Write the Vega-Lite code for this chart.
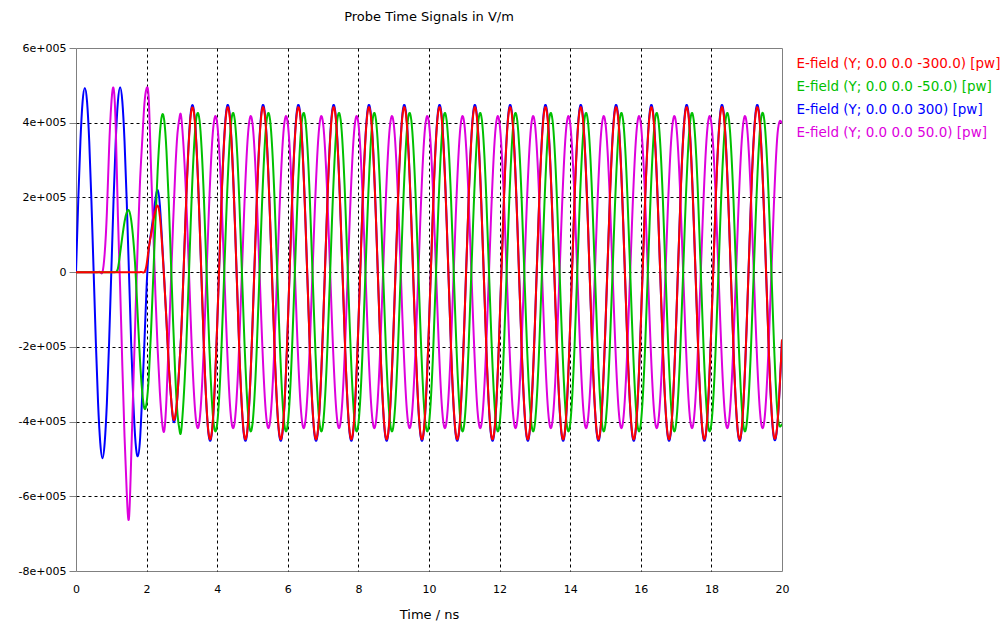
{
  "$schema": "https://vega.github.io/schema/vega-lite/v6.json",
  "width": 706,
  "height": 523,
  "autosize": {"type": "none"},
  "padding": {"left": 76, "top": 48, "right": 224, "bottom": 54},
  "background": "white",
  "title": {"text": "Probe Time Signals in V/m", "font": "DejaVu Sans", "fontSize": 13, "fontWeight": "normal", "color": "#000000", "anchor": "middle", "frame": "group", "offset": 18},
  "data": {"values": [
    {"t":0,"a":0,"b":0,"c":0,"d":0},
    {"t":0.0625,"a":0,"b":0,"c":189000,"d":0},
    {"t":0.125,"a":0,"b":0,"c":350000,"d":0},
    {"t":0.1875,"a":0,"b":0,"c":457000,"d":0},
    {"t":0.25,"a":0,"b":0,"c":493000,"d":0},
    {"t":0.3125,"a":0,"b":0,"c":457000,"d":0},
    {"t":0.375,"a":0,"b":0,"c":350000,"d":0},
    {"t":0.4375,"a":0,"b":0,"c":189000,"d":0},
    {"t":0.5,"a":0,"b":0,"c":0,"d":0},
    {"t":0.5625,"a":0,"b":0,"c":-189000,"d":0},
    {"t":0.625,"a":0,"b":0,"c":-350000,"d":0},
    {"t":0.6875,"a":0,"b":0,"c":-457000,"d":0},
    {"t":0.75,"a":0,"b":0,"c":-498000,"d":0},
    {"t":0.8125,"a":0,"b":0,"c":-457000,"d":50000},
    {"t":0.875,"a":0,"b":0,"c":-350000,"d":160000},
    {"t":0.9375,"a":0,"b":0,"c":-189000,"d":330000},
    {"t":1,"a":0,"b":0,"c":0,"d":450000},
    {"t":1.0625,"a":0,"b":0,"c":189000,"d":493000},
    {"t":1.125,"a":0,"b":0,"c":350000,"d":390000},
    {"t":1.1875,"a":0,"b":10000,"c":457000,"d":150000},
    {"t":1.25,"a":0,"b":50000,"c":495000,"d":-40000},
    {"t":1.3125,"a":0,"b":95000,"c":457000,"d":-250000},
    {"t":1.375,"a":0,"b":135000,"c":350000,"d":-440000},
    {"t":1.4375,"a":0,"b":160000,"c":189000,"d":-590000},
    {"t":1.5,"a":0,"b":165000,"c":0,"d":-660000},
    {"t":1.5625,"a":0,"b":140000,"c":-189000,"d":-500000},
    {"t":1.625,"a":0,"b":85000,"c":-350000,"d":-300000},
    {"t":1.6875,"a":0,"b":0,"c":-457000,"d":-106000},
    {"t":1.75,"a":0,"b":-120000,"c":-493000,"d":80000},
    {"t":1.8125,"a":0,"b":-235000,"c":-450000,"d":240000},
    {"t":1.875,"a":0,"b":-320000,"c":-330000,"d":350000},
    {"t":1.9375,"a":0,"b":-365000,"c":-190000,"d":450000},
    {"t":2,"a":20000,"b":-350000,"c":-40000,"d":492000},
    {"t":2.0625,"a":65000,"b":-280000,"c":60000,"d":460000},
    {"t":2.125,"a":100000,"b":-160000,"c":105000,"d":280000},
    {"t":2.1875,"a":135000,"b":-15000,"c":150000,"d":120000},
    {"t":2.25,"a":165000,"b":135000,"c":195000,"d":-60000},
    {"t":2.3125,"a":178000,"b":270000,"c":220000,"d":-205000},
    {"t":2.375,"a":150000,"b":370000,"c":180000,"d":-320000},
    {"t":2.4375,"a":75000,"b":420000,"c":85000,"d":-400000},
    {"t":2.5,"a":-22000,"b":406000,"c":-20000,"d":-425000},
    {"t":2.5625,"a":-130000,"b":325000,"c":-130000,"d":-340000},
    {"t":2.625,"a":-245000,"b":194000,"c":-245000,"d":-190000},
    {"t":2.6875,"a":-330000,"b":34000,"c":-330000,"d":-33000},
    {"t":2.75,"a":-390000,"b":-132000,"c":-395000,"d":129000},
    {"t":2.8125,"a":-385000,"b":-277000,"c":-390000,"d":271000},
    {"t":2.875,"a":-330000,"b":-380000,"c":-330000,"d":372000},
    {"t":2.9375,"a":-235000,"b":-426000,"c":-235000,"d":417000},
    {"t":3,"a":-120000,"b":-406000,"c":-120000,"d":398000},
    {"t":3.125,"a":199000,"b":-194000,"c":202000,"d":190000},
    {"t":3.25,"a":420000,"b":132000,"c":426000,"d":-129000},
    {"t":3.375,"a":394000,"b":380000,"c":399000,"d":-372000},
    {"t":3.5,"a":135000,"b":406000,"c":137000,"d":-398000},
    {"t":3.625,"a":-205000,"b":194000,"c":-206000,"d":-190000},
    {"t":3.75,"a":-426000,"b":-132000,"c":-430000,"d":129000},
    {"t":3.875,"a":-400000,"b":-380000,"c":-403000,"d":372000},
    {"t":4,"a":-141000,"b":-406000,"c":-141000,"d":398000},
    {"t":4.125,"a":199000,"b":-194000,"c":202000,"d":190000},
    {"t":4.25,"a":420000,"b":132000,"c":426000,"d":-129000},
    {"t":4.375,"a":394000,"b":380000,"c":399000,"d":-372000},
    {"t":4.5,"a":135000,"b":406000,"c":137000,"d":-398000},
    {"t":4.625,"a":-205000,"b":194000,"c":-206000,"d":-190000},
    {"t":4.75,"a":-426000,"b":-132000,"c":-430000,"d":129000},
    {"t":4.875,"a":-400000,"b":-380000,"c":-403000,"d":372000},
    {"t":5,"a":-141000,"b":-406000,"c":-141000,"d":398000},
    {"t":5.125,"a":199000,"b":-194000,"c":202000,"d":190000},
    {"t":5.25,"a":420000,"b":132000,"c":426000,"d":-129000},
    {"t":5.375,"a":394000,"b":380000,"c":399000,"d":-372000},
    {"t":5.5,"a":135000,"b":406000,"c":137000,"d":-398000},
    {"t":5.625,"a":-205000,"b":194000,"c":-206000,"d":-190000},
    {"t":5.75,"a":-426000,"b":-132000,"c":-430000,"d":129000},
    {"t":5.875,"a":-400000,"b":-380000,"c":-403000,"d":372000},
    {"t":6,"a":-141000,"b":-406000,"c":-141000,"d":398000},
    {"t":6.125,"a":199000,"b":-194000,"c":202000,"d":190000},
    {"t":6.25,"a":420000,"b":132000,"c":426000,"d":-129000},
    {"t":6.375,"a":394000,"b":380000,"c":399000,"d":-372000},
    {"t":6.5,"a":135000,"b":406000,"c":137000,"d":-398000},
    {"t":6.625,"a":-205000,"b":194000,"c":-206000,"d":-190000},
    {"t":6.75,"a":-426000,"b":-132000,"c":-430000,"d":129000},
    {"t":6.875,"a":-400000,"b":-380000,"c":-403000,"d":372000},
    {"t":7,"a":-141000,"b":-406000,"c":-141000,"d":398000},
    {"t":7.125,"a":199000,"b":-194000,"c":202000,"d":190000},
    {"t":7.25,"a":420000,"b":132000,"c":426000,"d":-129000},
    {"t":7.375,"a":394000,"b":380000,"c":399000,"d":-372000},
    {"t":7.5,"a":135000,"b":406000,"c":137000,"d":-398000},
    {"t":7.625,"a":-205000,"b":194000,"c":-206000,"d":-190000},
    {"t":7.75,"a":-426000,"b":-132000,"c":-430000,"d":129000},
    {"t":7.875,"a":-400000,"b":-380000,"c":-403000,"d":372000},
    {"t":8,"a":-141000,"b":-406000,"c":-141000,"d":398000},
    {"t":8.125,"a":199000,"b":-194000,"c":202000,"d":190000},
    {"t":8.25,"a":420000,"b":132000,"c":426000,"d":-129000},
    {"t":8.375,"a":394000,"b":380000,"c":399000,"d":-372000},
    {"t":8.5,"a":135000,"b":406000,"c":137000,"d":-398000},
    {"t":8.625,"a":-205000,"b":194000,"c":-206000,"d":-190000},
    {"t":8.75,"a":-426000,"b":-132000,"c":-430000,"d":129000},
    {"t":8.875,"a":-400000,"b":-380000,"c":-403000,"d":372000},
    {"t":9,"a":-141000,"b":-406000,"c":-141000,"d":398000},
    {"t":9.125,"a":199000,"b":-194000,"c":202000,"d":190000},
    {"t":9.25,"a":420000,"b":132000,"c":426000,"d":-129000},
    {"t":9.375,"a":394000,"b":380000,"c":399000,"d":-372000},
    {"t":9.5,"a":135000,"b":406000,"c":137000,"d":-398000},
    {"t":9.625,"a":-205000,"b":194000,"c":-206000,"d":-190000},
    {"t":9.75,"a":-426000,"b":-132000,"c":-430000,"d":129000},
    {"t":9.875,"a":-400000,"b":-380000,"c":-403000,"d":372000},
    {"t":10,"a":-141000,"b":-406000,"c":-141000,"d":398000},
    {"t":10.125,"a":199000,"b":-194000,"c":202000,"d":190000},
    {"t":10.25,"a":420000,"b":132000,"c":426000,"d":-129000},
    {"t":10.375,"a":394000,"b":380000,"c":399000,"d":-372000},
    {"t":10.5,"a":135000,"b":406000,"c":137000,"d":-398000},
    {"t":10.625,"a":-205000,"b":194000,"c":-206000,"d":-190000},
    {"t":10.75,"a":-426000,"b":-132000,"c":-430000,"d":129000},
    {"t":10.875,"a":-400000,"b":-380000,"c":-403000,"d":372000},
    {"t":11,"a":-141000,"b":-406000,"c":-141000,"d":398000},
    {"t":11.125,"a":199000,"b":-194000,"c":202000,"d":190000},
    {"t":11.25,"a":420000,"b":132000,"c":426000,"d":-129000},
    {"t":11.375,"a":394000,"b":380000,"c":399000,"d":-372000},
    {"t":11.5,"a":135000,"b":406000,"c":137000,"d":-398000},
    {"t":11.625,"a":-205000,"b":194000,"c":-206000,"d":-190000},
    {"t":11.75,"a":-426000,"b":-132000,"c":-430000,"d":129000},
    {"t":11.875,"a":-400000,"b":-380000,"c":-403000,"d":372000},
    {"t":12,"a":-141000,"b":-406000,"c":-141000,"d":398000},
    {"t":12.125,"a":199000,"b":-194000,"c":202000,"d":190000},
    {"t":12.25,"a":420000,"b":132000,"c":426000,"d":-129000},
    {"t":12.375,"a":394000,"b":380000,"c":399000,"d":-372000},
    {"t":12.5,"a":135000,"b":406000,"c":137000,"d":-398000},
    {"t":12.625,"a":-205000,"b":194000,"c":-206000,"d":-190000},
    {"t":12.75,"a":-426000,"b":-132000,"c":-430000,"d":129000},
    {"t":12.875,"a":-400000,"b":-380000,"c":-403000,"d":372000},
    {"t":13,"a":-141000,"b":-406000,"c":-141000,"d":398000},
    {"t":13.125,"a":199000,"b":-194000,"c":202000,"d":190000},
    {"t":13.25,"a":420000,"b":132000,"c":426000,"d":-129000},
    {"t":13.375,"a":394000,"b":380000,"c":399000,"d":-372000},
    {"t":13.5,"a":135000,"b":406000,"c":137000,"d":-398000},
    {"t":13.625,"a":-205000,"b":194000,"c":-206000,"d":-190000},
    {"t":13.75,"a":-426000,"b":-132000,"c":-430000,"d":129000},
    {"t":13.875,"a":-400000,"b":-380000,"c":-403000,"d":372000},
    {"t":14,"a":-141000,"b":-406000,"c":-141000,"d":398000},
    {"t":14.125,"a":199000,"b":-194000,"c":202000,"d":190000},
    {"t":14.25,"a":420000,"b":132000,"c":426000,"d":-129000},
    {"t":14.375,"a":394000,"b":380000,"c":399000,"d":-372000},
    {"t":14.5,"a":135000,"b":406000,"c":137000,"d":-398000},
    {"t":14.625,"a":-205000,"b":194000,"c":-206000,"d":-190000},
    {"t":14.75,"a":-426000,"b":-132000,"c":-430000,"d":129000},
    {"t":14.875,"a":-400000,"b":-380000,"c":-403000,"d":372000},
    {"t":15,"a":-141000,"b":-406000,"c":-141000,"d":398000},
    {"t":15.125,"a":199000,"b":-194000,"c":202000,"d":190000},
    {"t":15.25,"a":420000,"b":132000,"c":426000,"d":-129000},
    {"t":15.375,"a":394000,"b":380000,"c":399000,"d":-372000},
    {"t":15.5,"a":135000,"b":406000,"c":137000,"d":-398000},
    {"t":15.625,"a":-205000,"b":194000,"c":-206000,"d":-190000},
    {"t":15.75,"a":-426000,"b":-132000,"c":-430000,"d":129000},
    {"t":15.875,"a":-400000,"b":-380000,"c":-403000,"d":372000},
    {"t":16,"a":-141000,"b":-406000,"c":-141000,"d":398000},
    {"t":16.125,"a":199000,"b":-194000,"c":202000,"d":190000},
    {"t":16.25,"a":420000,"b":132000,"c":426000,"d":-129000},
    {"t":16.375,"a":394000,"b":380000,"c":399000,"d":-372000},
    {"t":16.5,"a":135000,"b":406000,"c":137000,"d":-398000},
    {"t":16.625,"a":-205000,"b":194000,"c":-206000,"d":-190000},
    {"t":16.75,"a":-426000,"b":-132000,"c":-430000,"d":129000},
    {"t":16.875,"a":-400000,"b":-380000,"c":-403000,"d":372000},
    {"t":17,"a":-141000,"b":-406000,"c":-141000,"d":398000},
    {"t":17.125,"a":199000,"b":-194000,"c":202000,"d":190000},
    {"t":17.25,"a":420000,"b":132000,"c":426000,"d":-129000},
    {"t":17.375,"a":394000,"b":380000,"c":399000,"d":-372000},
    {"t":17.5,"a":135000,"b":406000,"c":137000,"d":-398000},
    {"t":17.625,"a":-205000,"b":194000,"c":-206000,"d":-190000},
    {"t":17.75,"a":-426000,"b":-132000,"c":-430000,"d":129000},
    {"t":17.875,"a":-400000,"b":-380000,"c":-403000,"d":372000},
    {"t":18,"a":-141000,"b":-406000,"c":-141000,"d":398000},
    {"t":18.125,"a":199000,"b":-194000,"c":202000,"d":190000},
    {"t":18.25,"a":420000,"b":132000,"c":426000,"d":-129000},
    {"t":18.375,"a":394000,"b":380000,"c":399000,"d":-372000},
    {"t":18.5,"a":135000,"b":406000,"c":137000,"d":-398000},
    {"t":18.625,"a":-205000,"b":194000,"c":-206000,"d":-190000},
    {"t":18.75,"a":-426000,"b":-132000,"c":-430000,"d":129000},
    {"t":18.875,"a":-400000,"b":-380000,"c":-403000,"d":372000},
    {"t":19,"a":-141000,"b":-406000,"c":-141000,"d":398000},
    {"t":19.125,"a":199000,"b":-194000,"c":202000,"d":190000},
    {"t":19.25,"a":420000,"b":132000,"c":426000,"d":-129000},
    {"t":19.375,"a":394000,"b":380000,"c":399000,"d":-372000},
    {"t":19.5,"a":135000,"b":406000,"c":137000,"d":-398000},
    {"t":19.625,"a":-205000,"b":194000,"c":-206000,"d":-190000},
    {"t":19.75,"a":-426000,"b":-132000,"c":-430000,"d":129000},
    {"t":19.875,"a":-400000,"b":-380000,"c":-403000,"d":372000},
    {"t":20,"a":-180000,"b":-406000,"c":-182000,"d":398000}
  ]},
  "encoding": {
    "x": {"field": "t", "type": "quantitative", "scale": {"domain": [0, 20], "nice": false},
      "axis": {"values": [0,2,4,6,8,10,12,14,16,18,20], "title": "Time / ns", "labelFlush": false,
        "gridOpacity": {"condition": {"test": "datum.value == 0 || datum.value == 20", "value": 0}, "value": 1}}}
  },
  "layer": [
    {"mark": {"type": "line", "interpolate": "natural", "strokeWidth": 2, "clip": true},
     "encoding": {
       "y": {"field": "c", "type": "quantitative", "scale": {"domain": [-800000, 600000], "nice": false},
         "axis": {"values": [-800000,-600000,-400000,-200000,0,200000,400000,600000], "title": null,
           "labelExpr": "datum.value == 0 ? '0' : (datum.value/100000) + 'e+005'",
           "gridOpacity": {"condition": {"test": "datum.value == 600000 || datum.value == -800000", "value": 0}, "value": 1}}},
       "color": {"datum": "c", "type": "nominal", "scale": {"domain": ["a","b","c","d"], "range": ["#ff0000","#00c000","#0000ff","#dd00dd"]},
         "legend": {"orient": "none", "legendX": 707, "legendY": 9, "title": null, "symbolSize": 0, "symbolOpacity": 0, "symbolStrokeWidth": 0, "labelOffset": 0, "labelFont": "DejaVu Sans", "labelFontSize": 13.5, "labelLimit": 400, "rowPadding": 8,
           "labelExpr": "datum.label == 'a' ? 'E-field (Y; 0.0 0.0 -300.0) [pw]' : datum.label == 'b' ? 'E-field (Y; 0.0 0.0 -50.0) [pw]' : datum.label == 'c' ? 'E-field (Y; 0.0 0.0 300) [pw]' : 'E-field (Y; 0.0 0.0 50.0) [pw]'",
           "encode": {"labels": {"update": {"fill": {"scale": "color", "field": "value"}}}}}}
     }},
    {"mark": {"type": "line", "interpolate": "natural", "strokeWidth": 2, "clip": true},
     "encoding": {
       "y": {"field": "d", "type": "quantitative", "scale": {"domain": [-800000, 600000], "nice": false},
         "axis": {"values": [-800000,-600000,-400000,-200000,0,200000,400000,600000], "title": null,
           "labelExpr": "datum.value == 0 ? '0' : (datum.value/100000) + 'e+005'",
           "gridOpacity": {"condition": {"test": "datum.value == 600000 || datum.value == -800000", "value": 0}, "value": 1}}},
       "color": {"datum": "d", "type": "nominal"}
     }},
    {"mark": {"type": "line", "interpolate": "natural", "strokeWidth": 2, "clip": true},
     "encoding": {
       "y": {"field": "b", "type": "quantitative", "scale": {"domain": [-800000, 600000], "nice": false},
         "axis": {"values": [-800000,-600000,-400000,-200000,0,200000,400000,600000], "title": null,
           "labelExpr": "datum.value == 0 ? '0' : (datum.value/100000) + 'e+005'",
           "gridOpacity": {"condition": {"test": "datum.value == 600000 || datum.value == -800000", "value": 0}, "value": 1}}},
       "color": {"datum": "b", "type": "nominal"}
     }},
    {"mark": {"type": "line", "interpolate": "natural", "strokeWidth": 2, "clip": true},
     "encoding": {
       "y": {"field": "a", "type": "quantitative", "scale": {"domain": [-800000, 600000], "nice": false},
         "axis": {"values": [-800000,-600000,-400000,-200000,0,200000,400000,600000], "title": null,
           "labelExpr": "datum.value == 0 ? '0' : (datum.value/100000) + 'e+005'",
           "gridOpacity": {"condition": {"test": "datum.value == 600000 || datum.value == -800000", "value": 0}, "value": 1}}},
       "color": {"datum": "a", "type": "nominal"}
     }}
  ],
  "config": {
    "view": {"stroke": "#808080", "strokeWidth": 1},
    "font": "DejaVu Sans",
    "axis": {"grid": true, "gridColor": "#000000", "gridDash": [3, 3], "gridWidth": 1, "domain": false,
      "labelFont": "DejaVu Sans", "labelFontSize": 11, "labelColor": "#000000",
      "titleFont": "DejaVu Sans", "titleFontSize": 13, "titleFontWeight": "normal", "titleColor": "#000000"},
    "axisX": {"ticks": false, "labelPadding": 12, "titlePadding": 14},
    "axisY": {"tickColor": "#808080", "tickSize": 7, "labelPadding": 3}
  }
}
